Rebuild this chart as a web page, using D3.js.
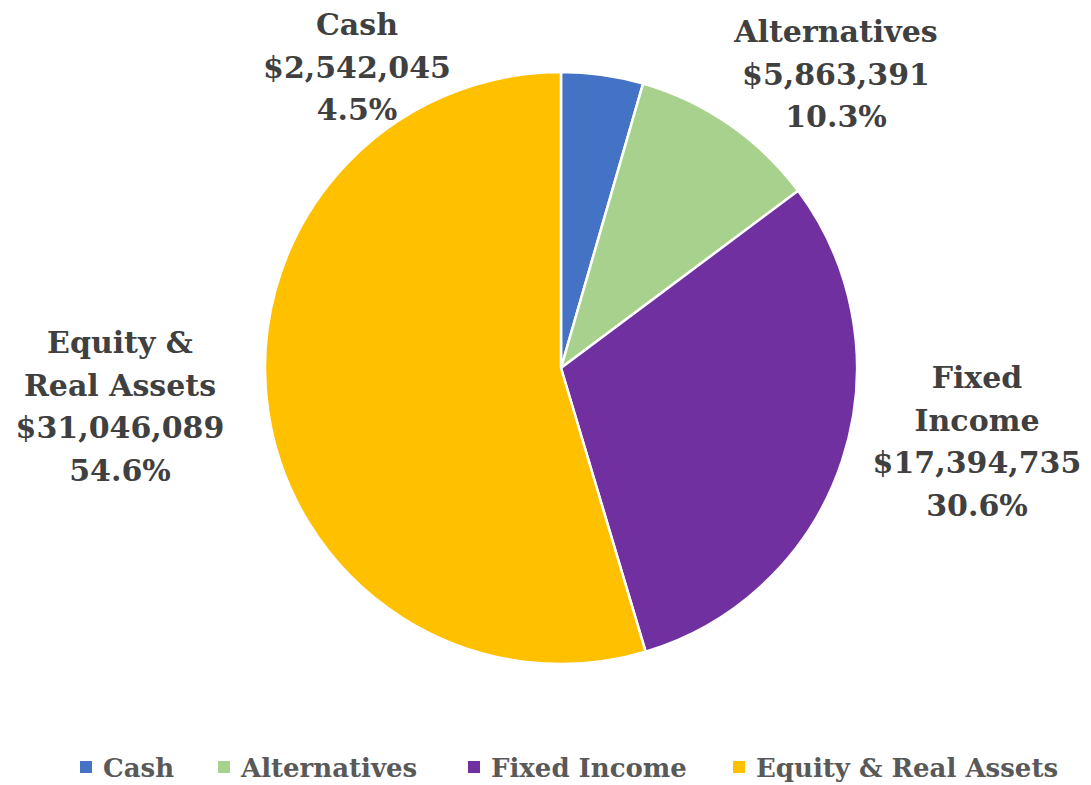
<!DOCTYPE html>
<html><head><meta charset="utf-8">
<script src="https://cdn.jsdelivr.net/npm/d3@7"></script>
<style>body{margin:0;background:#fff}svg{display:block}</style>
</head><body>
<svg id="c" width="1091" height="785"></svg>
<script>
const categories = ["Cash", "Alternatives", "Fixed Income", "Equity & Real Assets"];
const values = [2542045, 5863391, 17394735, 31046089];
const labelLines = [["Cash"], ["Alternatives"], ["Fixed", "Income"], ["Equity &", "Real Assets"]];
const colors = ["#4472C4", "#A9D18E", "#7030A0", "#FFC000"];

const svg = d3.select("#c");
const cx = 561, cy = 368, r = 296;
const total = d3.sum(values);
const pie = d3.pie().sort(null).value(d => d)(values);
const arc = d3.arc().innerRadius(0).outerRadius(r);
const g = svg.append("g").attr("transform", `translate(${cx},${cy})`);
g.selectAll("path").data(pie).enter().append("path")
  .attr("d", arc).attr("fill", (d, i) => colors[i])
  .attr("stroke", "#fff").attr("stroke-width", 2.5).attr("stroke-linejoin", "round");

const fmt = d3.format("$,");
const pct = d3.format(".1%");
// label anchor positions (center x, first baseline y)
const labelPos = [[357, 35], [836, 42], [977, 388], [120, 353]];
const font = "'DejaVu Serif', serif";
pie.forEach((d, i) => {
  const lines = labelLines[i].concat([fmt(values[i]), pct(values[i] / total)]);
  const t = svg.append("text").attr("text-anchor", "middle")
    .attr("font-family", font).attr("font-weight", "bold")
    .attr("font-size", 30).attr("fill", "#404040");
  lines.forEach((l, j) => {
    t.append("tspan").attr("x", labelPos[i][0]).attr("y", labelPos[i][1] + j * 42.7).text(l);
  });
});

// legend
const legX = [80, 218, 468, 733];
const leg = svg.append("g");
categories.forEach((c, i) => {
  leg.append("rect").attr("x", legX[i]).attr("y", 761).attr("width", 12).attr("height", 12).attr("fill", colors[i]);
  leg.append("text").attr("x", legX[i] + 23).attr("y", 777)
    .attr("font-family", font).attr("font-weight", "bold").attr("font-size", 26)
    .attr("fill", "#595959").text(c);
});
</script>
</body></html>
